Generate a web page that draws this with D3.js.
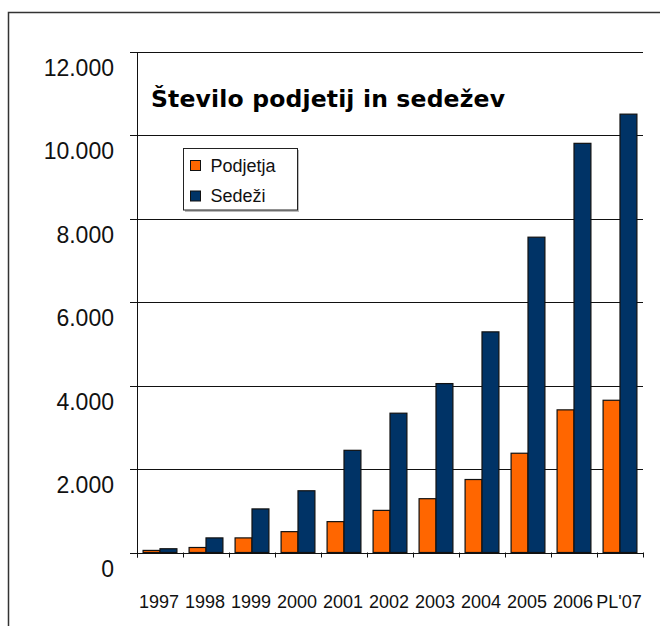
<!DOCTYPE html>
<html>
<head>
<meta charset="utf-8">
<script src="https://cdn.jsdelivr.net/npm/d3@7"></script>
<style>
  html, body { margin: 0; padding: 0; background: #fff; }
  svg { display: block; }
</style>
</head>
<body>
<div id="chart"></div>
<script>
/* global d3 */

const years = ['1997', '1998', '1999', '2000', '2001', '2002', '2003', '2004', '2005', '2006', "PL'07"];
const podjetja = [50, 120, 350, 500, 740, 1010, 1290, 1750, 2380, 3420, 3650];
const sedezi = [90, 350, 1045, 1480, 2450, 3340, 4050, 5290, 7560, 9810, 10510];
const seriesNames = ['Podjetja', 'Sedeži'];
const seriesColors = ['#ff6600', '#003366'];
const yTicks = [0, 2000, 4000, 6000, 8000, 10000, 12000];

const width = 660;
const height = 626;
const plot = { left: 137, right: 643, top: 52, bottom: 552.5 };

const svg = d3.select('#chart').append('svg')
  .attr('width', width)
  .attr('height', height);

// outer frame (runs off the right and bottom of the window)
svg.append('path')
  .attr('d', `M8.5,${height + 2}V12.5H${width + 2}`)
  .attr('fill', 'none')
  .attr('stroke', '#333')
  .attr('stroke-width', 1.5);

const x = d3.scaleBand()
  .domain(years)
  .range([plot.left, plot.right]);

const x1 = d3.scaleBand()
  .domain(seriesNames)
  .range([0, x.bandwidth()])
  .paddingInner(0)
  .paddingOuter(0.36);

const y = d3.scaleLinear()
  .domain([0, 12000])
  .range([plot.bottom, plot.top]);

const fmt = (v) => d3.format(',')(v).replace(/,/g, '.');

// gridlines + y tick marks
svg.append('g')
  .selectAll('line')
  .data(yTicks)
  .join('line')
  .attr('x1', plot.left - 7)
  .attr('x2', plot.right)
  .attr('y1', (d) => Math.round(y(d)) + 0.5)
  .attr('y2', (d) => Math.round(y(d)) + 0.5)
  .attr('stroke', '#111')
  .attr('stroke-width', 1);

// y labels (sit below their gridline, as in the original)
svg.append('g')
  .attr('font-family', 'Liberation Sans, Arial, sans-serif')
  .attr('font-size', 23)
  .attr('text-anchor', 'end')
  .attr('fill', '#111')
  .selectAll('text')
  .data(yTicks)
  .join('text')
  .attr('x', 114)
  .attr('y', (d) => y(d) + 24)
  .text((d) => fmt(d));

// y axis line
svg.append('line')
  .attr('x1', plot.left + 0.5).attr('x2', plot.left + 0.5)
  .attr('y1', plot.top).attr('y2', plot.bottom + 5)
  .attr('stroke', '#111');

// x category ticks
svg.append('g')
  .selectAll('line')
  .data(years.concat(['end']))
  .join('line')
  .attr('x1', (d, i) => Math.round(plot.left + i * x.step()) + 0.5)
  .attr('x2', (d, i) => Math.round(plot.left + i * x.step()) + 0.5)
  .attr('y1', plot.bottom)
  .attr('y2', plot.bottom + 5)
  .attr('stroke', '#111');

// bars
const groups = svg.append('g')
  .selectAll('g')
  .data(years.map((yr, i) => ({ yr, vals: [podjetja[i], sedezi[i]] })))
  .join('g')
  .attr('transform', (d) => `translate(${x(d.yr)},0)`);

groups.selectAll('rect')
  .data((d) => d.vals.map((v, j) => ({ name: seriesNames[j], v, c: seriesColors[j] })))
  .join('rect')
  .attr('x', (d) => x1(d.name))
  .attr('width', x1.bandwidth())
  .attr('y', (d) => y(d.v))
  .attr('height', (d) => y(0) - y(d.v))
  .attr('fill', (d) => d.c)
  .attr('stroke', '#111')
  .attr('stroke-width', 1.2);

// x labels
svg.append('g')
  .attr('font-family', 'Liberation Sans, Arial, sans-serif')
  .attr('font-size', 18)
  .attr('text-anchor', 'middle')
  .attr('fill', '#111')
  .selectAll('text')
  .data(years)
  .join('text')
  .attr('x', (d) => x(d) + x.bandwidth() / 2 - 1)
  .attr('y', 608)
  .text((d) => d);

// title
svg.append('text')
  .attr('x', 151)
  .attr('y', 107)
  .attr('font-family', 'DejaVu Sans, Verdana, sans-serif')
  .attr('font-weight', 'bold')
  .attr('font-size', 23.5)
  .attr('textLength', 354)
  .attr('fill', '#000')
  .text('Število podjetij in sedežev');

// legend
const legend = svg.append('g').attr('transform', 'translate(183.5,148.5)');
legend.append('rect')
  .attr('x', 1.5).attr('y', 1.5)
  .attr('width', 114).attr('height', 62)
  .attr('fill', '#bbb');
legend.append('rect')
  .attr('width', 114).attr('height', 61.5)
  .attr('fill', '#fff')
  .attr('stroke', '#222');

const items = legend.selectAll('g.item')
  .data(seriesNames)
  .join('g')
  .attr('class', 'item')
  .attr('transform', (d, i) => `translate(7,${12 + i * 30.5})`);
items.append('rect')
  .attr('width', 10).attr('height', 10)
  .attr('fill', (d, i) => seriesColors[i])
  .attr('stroke', '#111');
items.append('text')
  .attr('x', 20)
  .attr('y', 11)
  .attr('font-family', 'Liberation Sans, Arial, sans-serif')
  .attr('font-size', 18)
  .attr('fill', '#111')
  .text((d) => d);
</script>
</body>
</html>
